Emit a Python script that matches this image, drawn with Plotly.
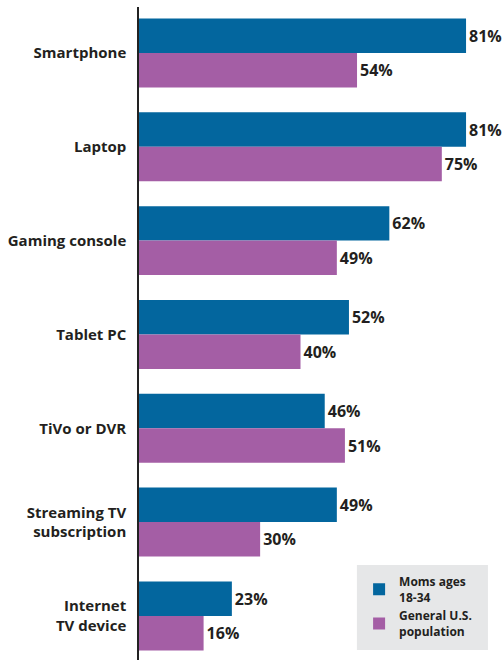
import plotly.graph_objects as go

categories = ["Smartphone", "Laptop", "Gaming console", "Tablet PC",
              "TiVo or DVR", "Streaming TV<br>subscription", "Internet<br>TV device"]
moms_18_34 = [81, 81, 62, 52, 46, 49, 23]
general_us = [54, 75, 49, 40, 51, 30, 16]

BLUE = "rgb(3,102,158)"
PURPLE = "rgb(164,94,165)"
TEXT = "#231F20"
FONT = "Open Sans"

fig = go.Figure()
for name, vals, color in [("Moms ages<br>18-34", moms_18_34, BLUE),
                          ("General U.S.<br>population", general_us, PURPLE)]:
    fig.add_trace(go.Bar(
        y=categories, x=vals, name=name, orientation="h",
        marker=dict(color=color, line=dict(width=0)),
        text=[f"{v}%" for v in vals], textposition="outside",
        textfont=dict(family=FONT, size=16, color=TEXT, weight=700),
        cliponaxis=False,
    ))

# grey panel behind the legend
fig.add_shape(type="rect", xref="paper", yref="paper",
              x0=0.597, x1=0.956, y0=0.0153, y1=0.1455,
              fillcolor="#E6E7E8", line=dict(width=0), layer="below")

fig.update_layout(
    width=504, height=660,
    margin=dict(l=139, r=0, t=7, b=0),
    paper_bgcolor="white", plot_bgcolor="white",
    barmode="group", bargap=0.265, bargroupgap=0,
    font=dict(family=FONT, color=TEXT),
    showlegend=True,
    legend=dict(
        x=0.603, y=0.142, xanchor="left", yanchor="top",
        bgcolor="rgba(0,0,0,0)", borderwidth=0,
        font=dict(family=FONT, size=12, color=TEXT, weight=700),
        traceorder="normal", tracegroupgap=20, itemwidth=30,
    ),
    xaxis=dict(range=[0, 90.4], visible=False, fixedrange=True),
    yaxis=dict(
        categoryorder="array", categoryarray=categories,
        range=[6.47, -0.49], showline=True, linecolor="#222222", linewidth=1.5,
        showgrid=False, zeroline=False, ticks="", ticklabelstandoff=8,
        tickfont=dict(family=FONT, size=15, color=TEXT, weight=700),
        automargin=False,
    ),
)

fig.write_html("out.html")
